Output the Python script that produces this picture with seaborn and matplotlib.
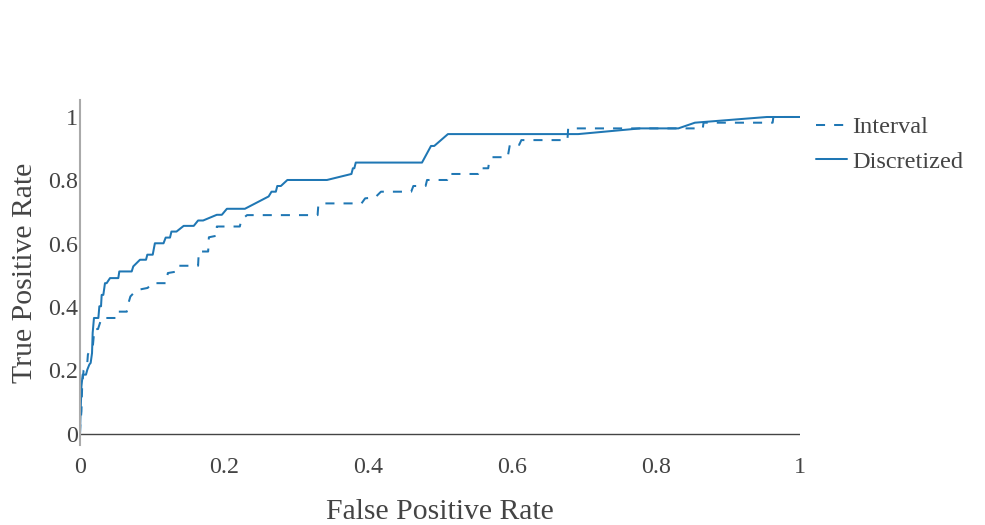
import numpy as np
import pandas as pd
import seaborn as sns
import matplotlib.pyplot as plt

# ROC curves
fpr_interval = [0, 0.0005, 0.002, 0.003, 0.005, 0.010, 0.011, 0.018, 0.020, 0.025, 0.030,
                0.052, 0.053, 0.065, 0.067, 0.070, 0.075, 0.083, 0.094, 0.100, 0.120,
                0.122, 0.135, 0.137, 0.164, 0.165, 0.178, 0.179, 0.190, 0.190, 0.222,
                0.224, 0.232, 0.330, 0.331, 0.335, 0.391, 0.396, 0.410, 0.418, 0.460,
                0.463, 0.480, 0.482, 0.510, 0.511, 0.553, 0.554, 0.567, 0.568, 0.572,
                0.594, 0.597, 0.610, 0.613, 0.677, 0.678, 0.865, 0.866, 0.962, 0.963, 1.0]
tpr_interval = [0, 0.030, 0.070, 0.150, 0.200, 0.220, 0.250, 0.280, 0.330, 0.330, 0.365,
                0.365, 0.385, 0.385, 0.410, 0.433, 0.445, 0.455, 0.460, 0.475, 0.475,
                0.507, 0.512, 0.530, 0.530, 0.575, 0.575, 0.620, 0.625, 0.654, 0.654,
                0.675, 0.690, 0.690, 0.722, 0.727, 0.727, 0.743, 0.746, 0.764, 0.764,
                0.782, 0.782, 0.801, 0.801, 0.820, 0.820, 0.838, 0.838, 0.856, 0.873,
                0.873, 0.912, 0.912, 0.927, 0.927, 0.964, 0.964, 0.982, 0.982, 1.0, 1.0]

fpr_discretized = [0, 0.0005, 0.001, 0.002, 0.0037, 0.0083, 0.0102, 0.013, 0.0148, 0.0167,
                   0.0176, 0.0194, 0.0255, 0.0269, 0.0292, 0.0301, 0.0324, 0.0347, 0.037,
                   0.0417, 0.0532, 0.0546, 0.0718, 0.074, 0.0833, 0.0917, 0.0935, 0.101,
                   0.104, 0.116, 0.119, 0.125, 0.127, 0.134, 0.144, 0.158, 0.164, 0.171,
                   0.190, 0.197, 0.204, 0.229, 0.262, 0.266, 0.272, 0.274, 0.279, 0.288,
                   0.343, 0.377, 0.379, 0.381, 0.383, 0.475, 0.4875, 0.492, 0.511, 0.692,
                   0.778, 0.831, 0.854, 0.954, 1.0]
tpr_discretized = [0, 0.044, 0.076, 0.149, 0.186, 0.186, 0.202, 0.218, 0.223, 0.254,
                   0.318, 0.365, 0.365, 0.402, 0.402, 0.438, 0.438, 0.475, 0.475,
                   0.491, 0.491, 0.512, 0.512, 0.528, 0.549, 0.549, 0.565, 0.565,
                   0.601, 0.601, 0.619, 0.619, 0.638, 0.638, 0.656, 0.656, 0.673, 0.673,
                   0.691, 0.691, 0.710, 0.710, 0.749, 0.764, 0.764, 0.782, 0.782, 0.801,
                   0.801, 0.820, 0.838, 0.838, 0.856, 0.856, 0.9085, 0.9085, 0.946, 0.946,
                   0.964, 0.964, 0.982, 1.0, 1.0]

ticks = [0, 0.2, 0.4, 0.6, 0.8, 1]
tick_labels = ["0", "0.2", "0.4", "0.6", "0.8", "1"]

sns.set_style("white")
plt.rcParams['font.family'] = ['Liberation Serif', 'DejaVu Serif']

cor = "#1f77b4"
texto = "#444444"

fig = plt.figure(figsize=(9.85, 5.25), dpi=100)
ax = fig.add_axes([80 / 985, 80 / 525, 720 / 985, 345 / 525])

sns.lineplot(x=fpr_interval, y=tpr_interval, sort=False, estimator=None, ax=ax,
             color=cor, linewidth=1.45, linestyle=(0, (4.5, 4.5)), label="Interval")
sns.lineplot(x=fpr_discretized, y=tpr_discretized, sort=False, estimator=None, ax=ax,
             color=cor, linewidth=1.45, label="Discretized")

ax.axhline(0, color=texto, linewidth=1.0, zorder=1)

ax.set_xlim(0, 1)
ax.set_ylim(-0.0363, 1.0537)
ax.set_xticks(ticks)
ax.set_xticklabels(tick_labels)
ax.set_yticks(ticks)
ax.set_yticklabels(tick_labels)
ax.tick_params(axis='both', length=0, labelsize=17.3, colors=texto)
ax.tick_params(axis='y', pad=1.5)
ax.tick_params(axis='x', pad=8.5)

for lado in ["top", "right", "bottom"]:
    ax.spines[lado].set_visible(False)
ax.spines["left"].set_color("#aaaaaa")
ax.spines["left"].set_linewidth(1.5)

ax.set_xlabel("False Positive Rate", fontsize=21.4, color=texto)
ax.set_ylabel("True Positive Rate", fontsize=21.4, color=texto)
ax.xaxis.set_label_coords(0.5, -0.195)
ax.yaxis.set_label_coords(-0.077, 0.5)
ax.xaxis.label.set_va("center")
ax.yaxis.label.set_va("center")

leg = ax.legend(loc="upper left", bbox_to_anchor=(816 / 985, 1 - 116 / 525),
                bbox_transform=fig.transFigure, frameon=False, fontsize=17.6,
                handlelength=1.27, handletextpad=0.2, labelspacing=0.52,
                borderaxespad=0, borderpad=0)
for t in leg.get_texts():
    t.set_color(texto)

fig.savefig("out.png", dpi=100)
